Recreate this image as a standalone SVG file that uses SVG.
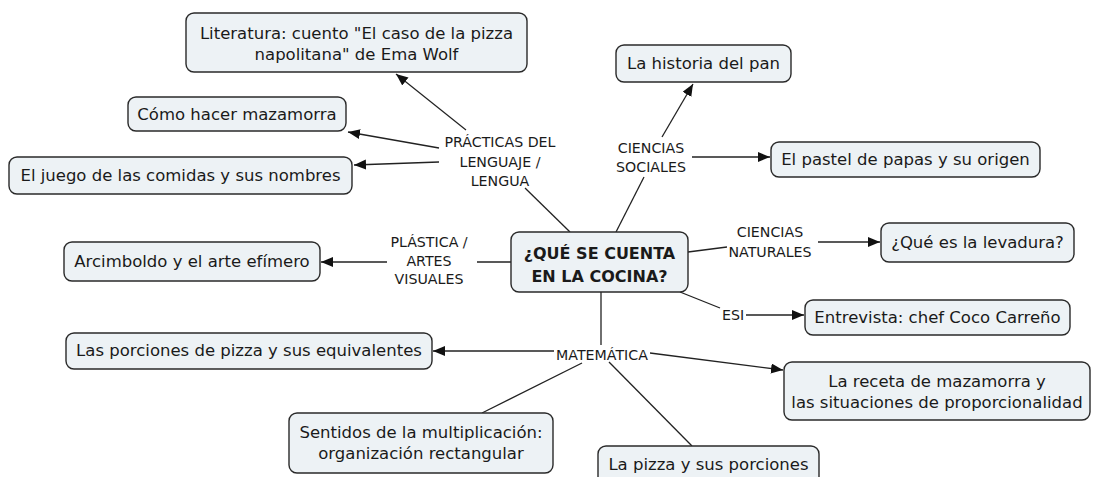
<svg xmlns="http://www.w3.org/2000/svg" width="1094" height="477" viewBox="0 0 1094 477">
<defs>
<marker id="arr" markerUnits="userSpaceOnUse" markerWidth="13" markerHeight="11" refX="12" refY="5" orient="auto">
<path d="M0,0 L12,5 L0,10 z" fill="#111"/>
</marker>
<style>
.box{fill:#edf2f5;stroke:#2a2a2a;stroke-width:1.4}
.t{font-family:"DejaVu Sans",Verdana,sans-serif;font-size:16.5px;fill:#1a1a1a;text-anchor:middle}
.b{font-weight:bold;font-size:16px}
.l{font-family:"DejaVu Sans",Verdana,sans-serif;font-size:14.2px;fill:#1a1a1a;text-anchor:middle}
.c{stroke:#222;stroke-width:1.3;fill:none}
.a{marker-end:url(#arr)}
</style>
</defs>
<rect width="1094" height="477" fill="#ffffff"/>
<g id="connectors">
<line class="c" x1="570" y1="232" x2="525" y2="188"/>
<line class="c a" x1="466" y1="130" x2="396" y2="74"/>
<line class="c a" x1="439" y1="148" x2="348" y2="132"/>
<line class="c a" x1="439" y1="162" x2="354" y2="165"/>
<line class="c" x1="616" y1="232" x2="644" y2="177"/>
<line class="c a" x1="662" y1="137" x2="693" y2="84"/>
<line class="c a" x1="692" y1="157" x2="770" y2="157"/>
<line class="c" x1="688" y1="252" x2="727" y2="247"/>
<line class="c a" x1="818" y1="242" x2="880" y2="242"/>
<line class="c" x1="511" y1="262" x2="477" y2="262"/>
<line class="c a" x1="387" y1="262" x2="321" y2="262"/>
<line class="c" x1="680" y1="292" x2="720" y2="308"/>
<line class="c a" x1="746" y1="315" x2="804" y2="315"/>
<line class="c" x1="601" y1="292" x2="601" y2="345"/>
<line class="c a" x1="554" y1="351" x2="433" y2="351"/>
<line class="c a" x1="650" y1="353" x2="783" y2="370"/>
<line class="c" x1="582" y1="363" x2="482" y2="413"/>
<line class="c" x1="609" y1="362" x2="692" y2="446"/>
</g>
<g id="central"><rect class="box" x="511" y="232" width="177" height="60" rx="8"/><text class="t b" x="599.5" y="259">¿QUÉ SE CUENTA</text><text class="t b" x="599.5" y="282">EN LA COCINA?</text></g>
<g id="literatura"><rect class="box" x="186" y="13" width="341" height="59" rx="8"/><text class="t" x="356.5" y="39">Literatura: cuento "El caso de la pizza</text><text class="t" x="356.5" y="60">napolitana" de Ema Wolf</text></g>
<g id="mazamorra"><rect class="box" x="128" y="97" width="218" height="34" rx="8"/><text class="t" x="237" y="120">Cómo hacer mazamorra</text></g>
<g id="juego"><rect class="box" x="9" y="157" width="343" height="37" rx="8"/><text class="t" x="180.5" y="181">El juego de las comidas y sus nombres</text></g>
<g id="historia"><rect class="box" x="616" y="45" width="175" height="37" rx="8"/><text class="t" x="703.5" y="69">La historia del pan</text></g>
<g id="pastel"><rect class="box" x="771" y="142" width="269" height="35" rx="8"/><text class="t" x="905.5" y="165">El pastel de papas y su origen</text></g>
<g id="levadura"><rect class="box" x="881" y="223" width="193" height="39" rx="8"/><text class="t" x="977.5" y="248">¿Qué es la levadura?</text></g>
<g id="arcimboldo"><rect class="box" x="64" y="242" width="256" height="39" rx="8"/><text class="t" x="192" y="267">Arcimboldo y el arte efímero</text></g>
<g id="entrevista"><rect class="box" x="805" y="300" width="265" height="35" rx="8"/><text class="t" x="937.5" y="323">Entrevista: chef Coco Carreño</text></g>
<g id="porciones"><rect class="box" x="66" y="333" width="366" height="36" rx="8"/><text class="t" x="249" y="356">Las porciones de pizza y sus equivalentes</text></g>
<g id="receta"><rect class="box" x="784" y="362" width="306" height="58" rx="8"/><text class="t" x="937" y="387">La receta de mazamorra y</text><text class="t" x="937" y="408">las situaciones de proporcionalidad</text></g>
<g id="sentidos"><rect class="box" x="289" y="413" width="264" height="60" rx="8"/><text class="t" x="421" y="438">Sentidos de la multiplicación:</text><text class="t" x="421" y="459">organización rectangular</text></g>
<g id="pizza"><rect class="box" x="598" y="446" width="221" height="40" rx="8"/><text class="t" x="708.5" y="470">La pizza y sus porciones</text></g>
<g id="lbl-practicas"><text class="l" x="500" y="147">PRÁCTICAS DEL</text><text class="l" x="500" y="167">LENGUAJE /</text><text class="l" x="500" y="186">LENGUA</text></g>
<g id="lbl-sociales"><text class="l" x="651" y="153">CIENCIAS</text><text class="l" x="651" y="172">SOCIALES</text></g>
<g id="lbl-naturales"><text class="l" x="770" y="237">CIENCIAS</text><text class="l" x="770" y="257">NATURALES</text></g>
<g id="lbl-plastica"><text class="l" x="429" y="247">PLÁSTICA /</text><text class="l" x="429" y="266">ARTES</text><text class="l" x="429" y="284">VISUALES</text></g>
<g id="lbl-esi"><text class="l" x="733" y="320">ESI</text></g>
<g id="lbl-matematica"><text class="l" x="602" y="360">MATEMÁTICA</text></g>
</svg>
